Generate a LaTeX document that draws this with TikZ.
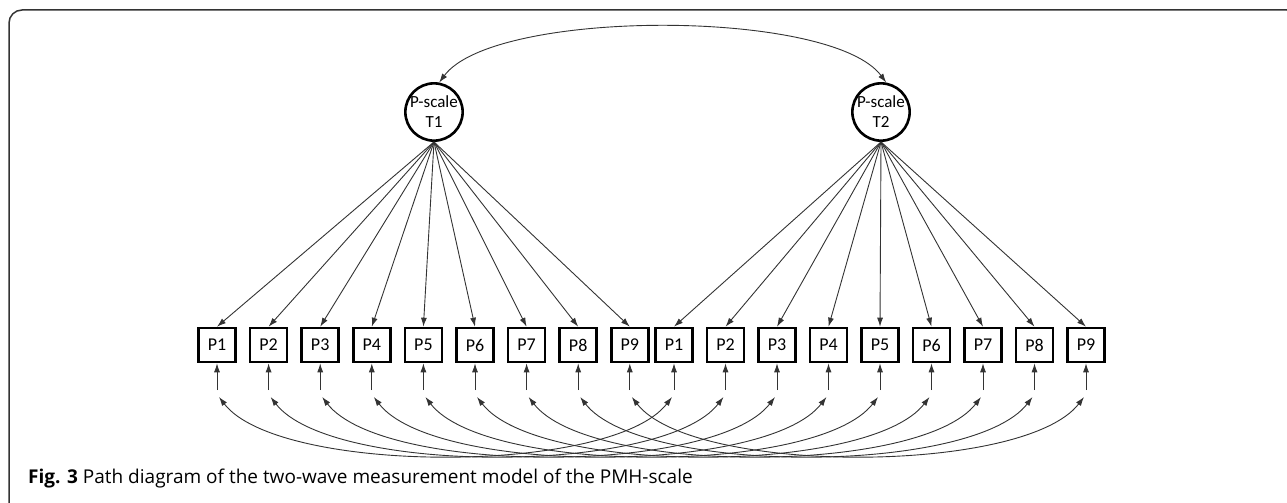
\documentclass[tikz,border=0pt]{standalone}
\usepackage{fontspec}
\setmainfont{Carlito}
\newfontfamily\capfont{Open Sans}
\usetikzlibrary{arrows.meta}

\begin{document}
\begin{tikzpicture}[x=1pt,y=-1pt,
   item/.style={draw,line width=2.6pt,minimum width=37pt,minimum height=34pt,
      inner sep=0pt,font=\fontsize{18}{18}\selectfont},
   factor/.style={draw,circle,line width=2.6pt,minimum size=57pt,inner sep=0pt,
      align=center,font=\fontsize{17}{20}\selectfont},
   load/.style={draw=black!80,line width=0.9pt,-{Latex[length=9pt,width=6pt]}},
   cov/.style={load,{Latex[length=9pt,width=6pt]}-{Latex[length=9pt,width=6pt]}}]
\useasboundingbox (0,0) rectangle (1287,503);
\begin{scope}
  \clip (0,0) rectangle (1287,503);
  \draw[line width=1.5pt,black!80,rounded corners=13pt] (9,10) rectangle (1300,520);
\end{scope}
% latent factors
\node[factor] (t1) at (434,112) {P-scale\\T1};
\node[factor] (t2) at (881,112) {P-scale\\T2};
\draw[cov] (t1.80) .. controls +(55,-74) and +(-55,-74) .. (t2.80);
% items of both waves
\foreach \i in {1,...,9} {
  \node[item] (a\i) at ({217+51.6*(\i-1)},345) {P\i};
  \node[item] (b\i) at ({674+51.5*(\i-1)},345) {P\i};
  \coordinate (ea\i) at ({217+51.6*(\i-1)},390);
  \coordinate (eb\i) at ({674+51.5*(\i-1)},390);
  \coordinate (ca\i) at ({219+51.6*(\i-1)},397);
  \coordinate (cb\i) at ({672+51.5*(\i-1)},397);
  \draw[load] (t1.south) -- (a\i.north);
  \draw[load] (t2.south) -- (b\i.north);
  \draw[load] (ea\i) -- (a\i.south);
  \draw[load] (eb\i) -- (b\i.south);
  \draw[cov] (ca\i) .. controls +(60,78) and +(-60,78) .. (cb\i);
}
\node[anchor=base west,inner sep=0pt,font=\capfont\fontsize{19}{19}\selectfont] (cap) at (28,483)
  {\textbf{Fig. 3} Path diagram of the two-wave measurement model of the PMH-scale};
\end{tikzpicture}
\end{document}
